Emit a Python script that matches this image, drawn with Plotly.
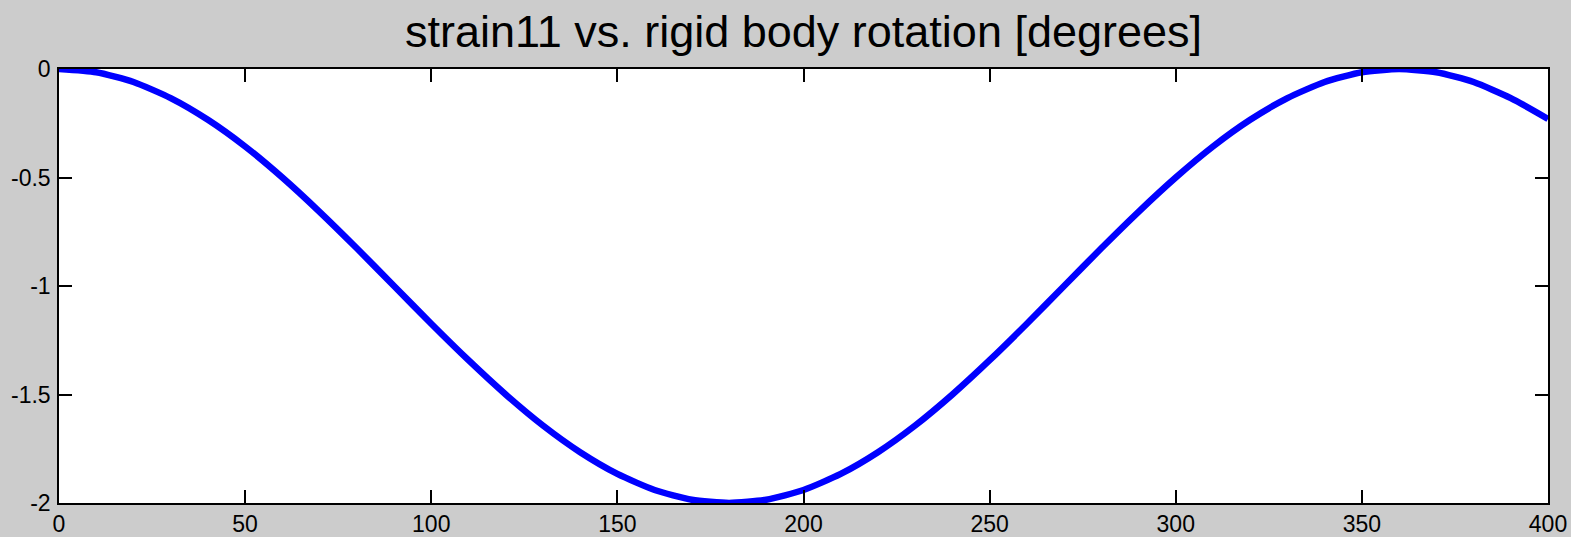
import plotly.graph_objects as go

angle_deg = [0, 10, 20, 30, 40, 50, 60, 70, 80, 90, 100, 110, 120, 130, 140, 150, 160, 170, 180,
             190, 200, 210, 220, 230, 240, 250, 260, 270, 280, 290, 300, 310, 320, 330, 340, 350,
             360, 370, 380, 390, 400]
strain11 = [0.0, -0.015, -0.060, -0.134, -0.234, -0.357, -0.500, -0.658, -0.826, -1.000,
            -1.174, -1.342, -1.500, -1.643, -1.766, -1.866, -1.940, -1.985, -2.000,
            -1.985, -1.940, -1.866, -1.766, -1.643, -1.500, -1.342, -1.174, -1.000,
            -0.826, -0.658, -0.500, -0.357, -0.234, -0.134, -0.060, -0.015,
            0.0, -0.015, -0.060, -0.134, -0.230]

x_ticks = [0, 50, 100, 150, 200, 250, 300, 350, 400]
y_ticks = [0, -0.5, -1, -1.5, -2]
y_tick_text = ["0", "-0.5", "-1", "-1.5", "-2"]

fig = go.Figure()
fig.add_trace(go.Scatter(
    x=angle_deg, y=strain11, mode="lines",
    line=dict(color="#0000ff", width=6.5, shape="spline", smoothing=0.6),
    showlegend=False,
))

axis_common = dict(
    showline=True, linecolor="black", linewidth=1.5, mirror="ticks",
    ticks="inside", ticklen=13, tickcolor="black", tickwidth=1.5,
    showgrid=False, zeroline=False, automargin=False,
    tickfont=dict(family="Liberation Sans, Arial, sans-serif", size=23, color="black"),
)

fig.update_xaxes(range=[0, 400], tickvals=x_ticks, ticktext=[str(v) for v in x_ticks],
                 ticklabelstandoff=0, **axis_common)
fig.update_yaxes(range=[-2, 0], tickvals=y_ticks, ticktext=y_tick_text,
                 ticklabelstandoff=2, **axis_common)

fig.update_layout(
    width=1571, height=537,
    margin=dict(l=59, r=23, t=69, b=34),
    paper_bgcolor="#cccccc", plot_bgcolor="white",
    title=dict(text="strain11 vs. rigid body rotation [degrees]",
               x=0.5, xanchor="center", xref="paper",
               y=1 - 31 / 537, yanchor="middle", yref="container",
               font=dict(family="Liberation Sans, Arial, sans-serif", size=45, color="black")),
)

fig.write_html("out.html")
